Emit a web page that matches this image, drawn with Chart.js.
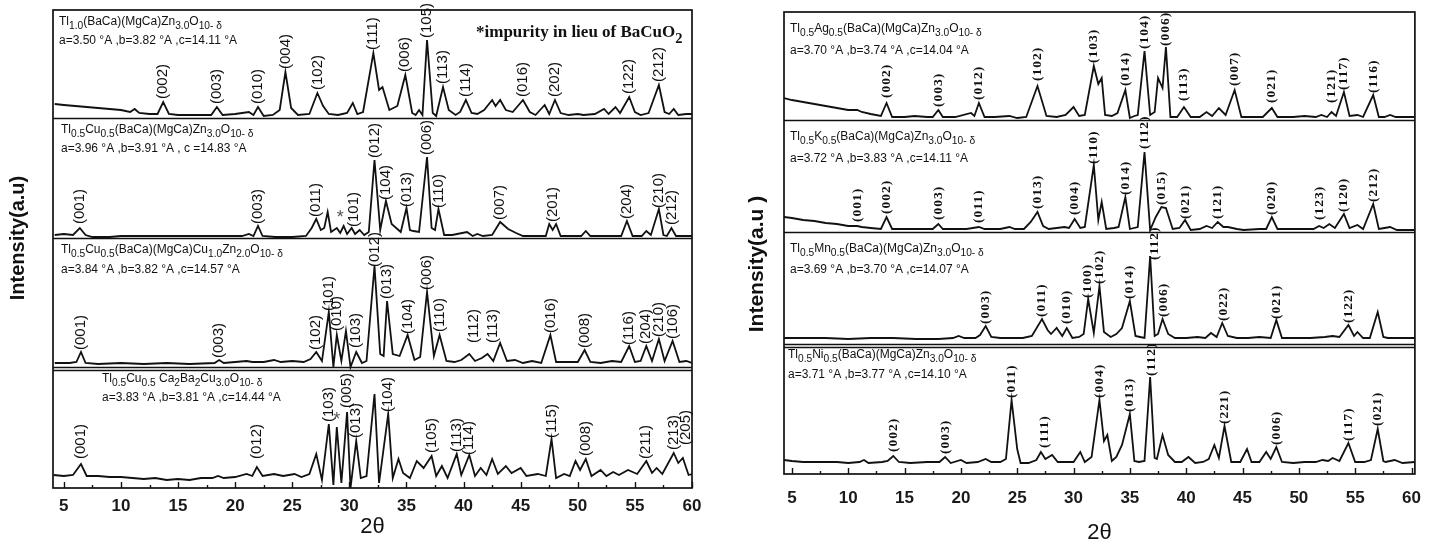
<!DOCTYPE html>
<html>
<head>
<meta charset="utf-8">
<script src="https://cdn.jsdelivr.net/npm/chart.js@4"></script>
<style>
  body { margin: 0; background: #fff; }
  .wrap { position: absolute; top: 0; }
</style>
</head>
<body>
<div class="wrap" style="left:0"><canvas id="left" width="715" height="540"></canvas></div>
<div class="wrap" style="left:715px"><canvas id="right" width="720" height="540"></canvas></div>
<script>
// x axis (2θ) tick labels, shared by both panels
const tickValues = [5, 10, 15, 20, 25, 30, 35, 40, 45, 50, 55, 60];

// ---- left panel patterns: [2θ, intensity a.u.] ----
const tl10Points = [[4.2,14],[5,13],[6,12],[7,11],[8,10],[9,9],[10,8],[10.8,6],[11.2,9],[11.6,5],[12.5,4],[13.2,4],[13.7,16],[14.2,4],[15,3],[16,3],[17,3],[17.9,3],[18.4,11],[18.9,3],[20,4],[21.2,6],[21.6,3],[22,11],[22.5,2],[23.3,3],[23.9,8],[24.4,46],[24.9,10],[25.5,3],[26.5,4],[27.2,25],[27.7,12],[28.2,4],[29,3],[29.8,5],[30.3,15],[30.7,4],[31.2,6],[32.1,65],[32.6,28],[32.9,31],[33.5,8],[34.2,12],[34.9,43],[35.5,5],[35.8,3],[36.1,8],[36.4,3],[36.8,78],[37.3,5],[37.6,2],[38.2,31],[38.7,8],[39.3,3],[39.7,6],[40.2,18],[40.7,5],[41.2,4],[41.8,8],[42.5,18],[42.8,12],[43.2,18],[43.7,8],[44.3,6],[45.2,18],[45.8,6],[46.3,3],[47.1,13],[47.5,4],[48.0,18],[48.5,5],[49.2,3],[50,4],[50.5,3],[51.5,4],[52.3,9],[52.7,4],[53.3,11],[53.7,5],[54.5,21],[55,6],[55.5,3],[56.2,5],[57.1,33],[57.6,6],[58,4],[58.4,9],[58.8,3],[59.5,4],[60,4]];
const tl10Labels = [["(002)",13.7,19],["(003)",18.4,14],["(010)",22.0,14],["(004)",24.4,49],["(102)",27.2,28],["(111)",32.1,68],["(006)",34.9,46],["(105)",36.8,80],["(113)",38.2,34],["(114)",40.2,21],["(016)",45.2,21],["(202)",48.0,21],["(122)",54.5,24],["(212)",57.1,36]];

const cu05Points = [[4.2,3],[5,4],[5.8,3],[6.4,10],[6.9,3],[7.5,1],[9,1],[10,2],[12,2],[14,2],[16,2],[18,2],[19.5,2],[20.6,2],[21.2,4],[21.6,2],[22.0,12],[22.4,2],[23.5,1],[25,1],[26.2,2],[26.7,10],[27.1,19],[27.5,8],[27.8,10],[28.1,26],[28.4,6],[28.9,10],[29.2,5],[29.5,12],[29.8,4],[30.2,10],[30.5,4],[30.9,8],[31.3,3],[31.7,6],[32.2,78],[32.7,8],[33.2,37],[33.7,14],[34.1,10],[34.5,6],[35.0,30],[35.3,8],[35.6,7],[36.1,6],[36.8,81],[37.2,10],[37.5,8],[37.8,29],[38.3,3],[39,3],[40.3,6],[40.8,2],[41.2,4],[41.7,2],[42.5,3],[43.2,16],[43.9,9],[44.6,5],[45.2,2],[46.5,2],[47.2,2],[47.5,14],[47.8,8],[48.1,14],[48.5,2],[49.5,2],[50.3,2],[50.7,7],[51.1,2],[52.5,2],[53.8,2],[54.3,17],[54.8,2],[55.6,2],[56.0,7],[56.4,3],[57.1,29],[57.5,3],[57.8,2],[58.2,10],[58.6,2],[60,2]];
const cu05Labels = [["(001)",6.4,14],["(003)",22.0,14],["(011)",27.1,21],["(101)",30.4,11],["(012)",32.2,80],["(104)",33.2,38],["(013)",35.0,31],["(006)",36.8,83],["(110)",37.8,30],["(007)",43.2,18],["(201)",47.8,16],["(204)",54.3,19],["(210)",57.1,30],["(212)",58.2,13]];
const cu05Stars = [[29.2,20]];

const cuznPoints = [[4.2,4],[5.5,4],[6.1,5],[6.5,15],[6.9,4],[8,3],[10,4],[12,3],[14,4],[16,3],[18.2,4],[18.6,7],[19,4],[20,5],[21,6],[21.5,5],[22.5,5],[23.4,7],[24,5],[25,6],[26,5],[26.6,8],[27.1,15],[27.6,6],[28.2,55],[28.6,0],[28.9,32],[29.3,6],[29.7,36],[30.1,0],[30.6,15],[31.1,4],[31.5,6],[32.2,101],[32.7,13],[33.0,11],[33.3,66],[33.8,13],[34.4,11],[35.1,32],[35.7,7],[36.2,10],[36.8,75],[37.4,11],[37.9,32],[38.5,6],[39.2,5],[39.8,7],[40.5,13],[41.0,6],[41.6,9],[42.1,13],[42.6,6],[43.2,24],[43.8,6],[44.5,7],[45.2,4],[46,6],[46.8,4],[47.6,32],[48.1,5],[49,5],[50,5],[50.6,17],[51.1,5],[52,4],[53,6],[53.8,5],[54.5,21],[55,5],[55.5,6],[56.0,21],[56.5,6],[57.1,28],[57.6,6],[58.3,26],[58.9,5],[59.5,6],[60,4]];
const cuznLabels = [["(001)",6.5,17],["(003)",18.6,9],["(102)",27.1,17],["(101)",28.2,56],["(010)",28.9,36],["(103)",30.6,19],["(012)",32.2,100],["(013)",33.3,68],["(104)",35.1,33],["(006)",36.8,77],["(110)",37.9,35],["(112)",40.9,24],["(113)",42.6,24],["(016)",47.6,34],["(008)",50.6,19],["(116)",54.5,22],["(204)",56.0,23],["(210)",57.1,30],["(106)",58.3,28]];

const ca2ba2Points = [[4.1,13],[5,12],[5.8,13],[6.5,24],[7.0,12],[8,12],[9,11],[10,11],[11,10],[12,9],[13,10],[14,8],[15,9],[16,8],[17,10],[18,10],[18.5,12],[19,10],[20,11],[21,14],[21.5,12],[21.9,21],[22.4,12],[23.4,14],[24.2,12],[25.2,14],[25.8,11],[26.5,14],[27.1,34],[27.6,8],[28.2,64],[28.6,3],[28.9,61],[29.3,5],[29.8,76],[30.1,0],[30.6,47],[31.0,10],[31.5,12],[32.2,94],[32.6,5],[33.4,74],[33.8,10],[34.3,29],[34.7,15],[35.3,10],[35.9,27],[36.5,20],[37.2,32],[37.6,12],[38.1,22],[38.6,10],[39.4,34],[39.8,13],[40.5,33],[41.0,12],[41.5,20],[42.0,13],[42.5,29],[43.0,14],[43.7,22],[44.2,15],[45.0,20],[45.5,12],[46.5,14],[47.2,12],[47.7,49],[48.1,10],[48.8,14],[49.3,12],[49.8,27],[50.2,18],[50.7,29],[51.2,12],[52.0,18],[52.5,12],[53.1,16],[53.6,13],[54.4,18],[55.2,14],[56.0,27],[56.5,15],[56.9,20],[57.4,14],[58.4,35],[58.8,25],[59.2,30],[59.7,13],[60,14]];
const ca2ba2Labels = [["(001)",6.5,29],["(012)",21.9,29],["(103)",28.2,66],["(005)",29.8,80],["(013)",30.6,50],["(104)",33.4,76],["(105)",37.2,35],["(113)",39.4,36],["(114)",40.5,33],["(115)",47.7,50],["(008)",50.7,32],["(211)",56.0,29],["(213)",58.4,38],["(205)",59.5,43]];
const ca2ba2Stars = [[28.9,68]];

// ---- right panel patterns ----
const agPoints = [[4.3,22],[5,20],[6,18],[7,16],[8,14],[9,12],[10,10],[10.8,10],[11.2,8],[12,6],[12.9,4],[13.4,17],[13.9,3],[15,3],[15.9,4],[17,3],[17.5,3],[18.0,10],[18.4,3],[19.5,3],[20.9,7],[21.2,4],[21.6,17],[22.1,3],[23,3],[24.3,4],[25,2],[25.8,3],[26.8,34],[27.6,4],[28.5,3],[29.3,5],[30.0,13],[30.5,4],[31.0,5],[31.8,54],[32.2,36],[32.5,42],[32.8,5],[33.4,4],[33.9,7],[34.6,30],[35.0,2],[35.4,4],[35.7,5],[36.3,69],[36.8,5],[37.2,8],[37.5,42],[37.9,32],[38.2,73],[38.6,3],[39.2,3],[39.8,13],[40.4,3],[41.2,3],[41.8,8],[42.3,4],[42.9,12],[43.5,5],[44.3,30],[44.9,3],[45.8,3],[46.8,3],[47.6,12],[48.1,3],[49.5,3],[50.5,4],[51.5,3],[52.0,5],[52.5,3],[52.9,8],[53.3,4],[54.0,28],[54.5,4],[55.2,5],[55.7,3],[56.6,25],[57.1,3],[57.6,3],[58.1,5],[58.6,3],[60.3,3]];
const agLabels = [["(002)",13.4,22],["(003)",18.0,13],["(012)",21.6,20],["(102)",26.8,39],["(103)",31.8,57],["(014)",34.6,34],["(104)",36.3,71],["(006)",38.2,74],["(113)",39.8,19],["(007)",44.3,34],["(021)",47.6,17],["(121)",52.9,17],["(117)",54.0,30],["(116)",56.6,27]];

const kPoints = [[4.3,15],[5,14],[6,12],[7,11],[8,9],[9,8],[10,6],[10.8,6],[11.2,5],[12,4],[12.9,3],[13.4,15],[13.9,3],[15,3],[16.5,3],[17.5,3],[18.0,8],[18.4,3],[19.5,3],[20.5,3],[21.6,5],[22.1,3],[23.5,3],[24.3,5],[24.8,3],[25.6,3],[26.2,10],[26.8,20],[27.3,6],[27.8,3],[28.5,4],[29.2,5],[29.6,4],[30.1,13],[30.6,4],[31.0,5],[31.8,67],[32.2,12],[32.5,30],[32.9,3],[33.6,4],[34.0,5],[34.6,35],[35.0,3],[35.7,5],[36.3,80],[36.8,2],[37.3,15],[37.8,25],[38.2,24],[38.8,3],[39.4,4],[39.9,12],[40.4,2],[41.2,3],[41.8,6],[42.3,4],[42.8,10],[43.3,5],[43.7,5],[44.5,3],[45.1,2],[46.5,3],[47.1,3],[47.6,15],[48.1,3],[49.5,3],[50.5,3],[51.3,3],[51.8,6],[52.2,4],[52.7,8],[53.2,4],[54.0,18],[54.5,4],[55.2,7],[55.7,3],[56.6,28],[57.1,3],[57.6,4],[58.1,5],[58.7,2],[60.3,2]];
const kLabels = [["(001)",10.8,10],["(002)",13.4,18],["(003)",18.0,12],["(011)",21.6,9],["(013)",26.8,23],["(004)",30.1,17],["(110)",31.8,68],["(014)",34.6,37],["(112)",36.3,83],["(015)",37.8,27],["(021)",39.9,13],["(121)",42.8,13],["(020)",47.6,17],["(123)",51.8,12],["(120)",54.0,20],["(212)",56.6,30]];

const mnPoints = [[4.3,6],[6,6],[8,6],[10,5],[12,6],[14,6],[16,5],[18,5],[19.3,6],[19.8,8],[20.3,6],[21.3,6],[21.7,9],[22.2,18],[22.7,7],[23.5,6],[24.5,6],[25.5,6],[26.3,8],[27.2,25],[27.7,14],[28.0,10],[28.5,16],[29.0,8],[29.4,16],[29.9,6],[30.5,7],[30.9,10],[31.3,45],[31.8,11],[32.3,58],[32.7,12],[33.3,7],[33.8,10],[34.3,16],[35.0,43],[35.5,8],[35.9,7],[36.3,6],[36.8,88],[37.2,8],[37.5,10],[37.9,25],[38.4,10],[39,6],[40,6],[41,7],[41.7,6],[42.2,11],[42.7,7],[43.2,21],[43.7,8],[44.5,6],[45.5,6],[46.5,7],[47.5,6],[48.0,24],[48.5,6],[49.5,6],[51,6],[52.3,7],[53.0,8],[53.6,7],[54.4,19],[54.9,8],[55.2,12],[55.7,6],[56.3,6],[57.0,32],[57.5,7],[57.9,6],[58.8,6],[60.3,6]];
const mnLabels = [["(003)",22.2,20],["(011)",27.2,27],["(010)",29.4,20],["(100)",31.2,46],["(102)",32.3,60],["(014)",35.0,45],["(112)",37.2,84],["(006)",38.0,27],["(022)",43.3,23],["(021)",48.0,25],["(122)",54.4,21]];

const niPoints = [[4.3,14],[5,13],[6,12],[7,12],[8,12],[9,12],[10,11],[11.0,12],[11.4,14],[11.8,11],[13,12],[13.5,13],[14.0,18],[14.5,12],[15.5,11],[17,12],[18.1,12],[18.6,17],[19.1,11],[20.0,14],[20.5,11],[21.5,12],[22.2,15],[22.7,12],[23.5,12],[24.0,15],[24.5,74],[25.0,25],[25.3,11],[26,11],[26.7,14],[27.1,22],[27.5,15],[28.1,19],[28.6,12],[29.2,12],[30.0,12],[30.6,22],[31.0,12],[31.6,17],[32.3,74],[32.7,33],[33.0,39],[33.4,13],[33.8,17],[34.3,29],[35.0,60],[35.4,13],[35.8,12],[36.3,13],[36.8,97],[37.2,16],[37.4,15],[37.9,39],[38.4,19],[39.0,12],[39.6,12],[40.2,17],[40.8,11],[41.5,12],[42.0,15],[42.5,29],[42.9,16],[43.4,48],[44.0,12],[44.8,12],[45.4,25],[45.8,12],[46.5,12],[47.1,22],[47.5,15],[48.0,27],[48.5,12],[49.5,11],[50.5,12],[51.5,12],[52.1,14],[52.6,13],[53.0,16],[53.6,13],[54.4,31],[55.0,12],[55.8,12],[56.4,14],[57.0,45],[57.5,13],[57.7,12],[58.5,14],[59.2,11],[60.3,12]];
const niLabels = [["(002)",14.0,22],["(003)",18.6,20],["(011)",24.5,76],["(111)",27.4,26],["(004)",32.3,76],["(013)",35.0,62],["(112)",36.9,98],["(221)",43.4,50],["(006)",48.0,29],["(117)",54.4,33],["(021)",57.0,48]];

// sample names and cell parameters (_{..} = subscript)
const leftNames = ["Tl_{1.0}(BaCa)(MgCa)Zn_{3.0}O_{10- δ}", "Tl_{0.5}Cu_{0.5}(BaCa)(MgCa)Zn_{3.0}O_{10- δ}", "Tl_{0.5}Cu_{0.5}(BaCa)(MgCa)Cu_{1.0}Zn_{2.0}O_{10- δ}", "Tl_{0.5}Cu_{0.5} Ca_{2}Ba_{2}Cu_{3.0}O_{10- δ}"];
const leftCells = ["a=3.50 °A ,b=3.82 °A ,c=14.11 °A", "a=3.96 °A ,b=3.91 °A , c =14.83 °A", "a=3.84 °A ,b=3.82 °A ,c=14.57 °A", "a=3.83 °A ,b=3.81 °A ,c=14.44 °A"];
const rightNames = ["Tl_{0.5}Ag_{0.5}(BaCa)(MgCa)Zn_{3.0}O_{10- δ}", "Tl_{0.5}K_{0.5}(BaCa)(MgCa)Zn_{3.0}O_{10- δ}", "Tl_{0.5}Mn_{0.5}(BaCa)(MgCa)Zn_{3.0}O_{10- δ}", "Tl_{0.5}Ni_{0.5}(BaCa)(MgCa)Zn_{3.0}O_{10- δ}"];
const rightCells = ["a=3.70 °A ,b=3.74 °A ,c=14.04 °A", "a=3.72 °A ,b=3.83 °A ,c=14.11 °A", "a=3.69 °A ,b=3.70 °A ,c=14.07 °A", "a=3.71 °A ,b=3.77 °A ,c=14.10 °A"];

// draw a string with _{...} parts as subscripts
function drawRich(ctx, str, x, y, size, family, weight) {
  let cx = x;
  str.split(/(_\{[^}]*\})/).filter(s => s).forEach(p => {
    const sub = p.startsWith('_{');
    const t = sub ? p.slice(2, -1) : p;
    ctx.font = `${weight} ${sub ? size * 0.85 : size}px ${family}`;
    ctx.fillText(t, cx, sub ? y + size * 0.35 : y);
    cx += ctx.measureText(t).width;
  });
}

const xrdDecor = {
  id: 'xrdDecor',
  afterDraw(chart, args, o) {
    const {ctx, chartArea: a, scales: {x, y}} = chart;
    ctx.save();
    ctx.strokeStyle = '#111';
    ctx.fillStyle = '#111';
    ctx.lineWidth = 1.7;
    ctx.strokeRect(a.left, a.top, a.right - a.left, a.bottom - a.top);

    // separators between stacked patterns
    o.bands.forEach((b, i) => {
      if (i === 0) return;
      const py = Math.round(y.getPixelForValue(o.bands[i - 1].base)) + 0.5;
      const lines = i === o.bands.length - 1 ? [0, 3] : [0];
      lines.forEach(d => {
        ctx.beginPath();
        ctx.moveTo(a.left, py + d);
        ctx.lineTo(a.right, py + d);
        ctx.stroke();
      });
    });

    // inward ticks on the bottom axis
    ctx.lineWidth = 1.4;
    tickValues.forEach(v => {
      [[v, 6], [v + 2.5, 3]].forEach(([t, len]) => {
        if (t < x.min || t > x.max) return;
        const px = Math.round(x.getPixelForValue(t)) + 0.5;
        ctx.beginPath();
        ctx.moveTo(px, a.bottom);
        ctx.lineTo(px, a.bottom - len);
        ctx.stroke();
      });
    });

    // names, cell parameters, hkl labels
    o.bands.forEach((b, i) => {
      const top = i === 0 ? a.top : y.getPixelForValue(o.bands[i - 1].base);
      ctx.textAlign = 'left';
      ctx.textBaseline = 'middle';
      drawRich(ctx, b.name, a.left + b.nameX, top + b.nameDy, o.nameSize, 'Arial', 'normal');
      ctx.font = `${o.cellWeight} ${o.cellSize}px Arial`;
      ctx.fillText(b.cell, a.left + b.nameX, top + b.cellDy);

      ctx.font = o.hklFont;
      ctx.letterSpacing = o.hklSpacing;
      b.labels.forEach(([txt, tx, ty]) => {
        ctx.save();
        ctx.translate(x.getPixelForValue(tx), y.getPixelForValue(b.base + ty));
        ctx.rotate(-Math.PI / 2);
        ctx.fillText(txt, 0, 0);
        ctx.restore();
      });
      ctx.letterSpacing = '0px';
      ctx.font = '18px Arial';
      ctx.fillStyle = '#555';
      ctx.textAlign = 'center';
      (b.stars || []).forEach(([tx, ty]) => {
        ctx.fillText('*', x.getPixelForValue(tx), y.getPixelForValue(b.base + ty));
      });
      ctx.fillStyle = '#111';
    });

    if (o.note) {
      ctx.textAlign = 'left';
      drawRich(ctx, o.note.text, o.note.x, o.note.y, 17, '"Liberation Serif", "Times New Roman", serif', 'bold');
    }

    // y title
    ctx.save();
    ctx.translate(o.yTitle.x, o.yTitle.y);
    ctx.rotate(-Math.PI / 2);
    ctx.textAlign = 'center';
    ctx.textBaseline = 'middle';
    ctx.font = `bold ${o.yTitle.size}px Arial`;
    ctx.fillText(o.yTitle.text, 0, 0);
    ctx.restore();
    ctx.restore();
  }
};

function makePanel(id, cfg) {
  return new Chart(document.getElementById(id), {
    type: 'line',
    data: {
      datasets: cfg.decor.bands.map(b => ({
        data: b.points.map(p => ({x: p[0], y: p[1] + b.base})),
        borderColor: '#111',
        borderWidth: 1.8,
        pointRadius: 0,
        tension: 0
      }))
    },
    options: {
      responsive: false,
      animation: false,
      layout: { padding: cfg.padding },
      plugins: {
        legend: { display: false },
        tooltip: { enabled: false },
        xrdDecor: cfg.decor
      },
      scales: {
        x: {
          type: 'linear',
          min: cfg.xMin,
          max: cfg.xMax,
          afterBuildTicks: s => { s.ticks = tickValues.map(v => ({value: v})); },
          afterFit: s => { s.height = cfg.axisHeight; },
          grid: { display: false, drawTicks: false },
          border: { display: false },
          ticks: {
            autoSkip: false, maxRotation: 0, padding: cfg.tickPad,
            color: '#1a1a1a',
            font: { family: 'Arial', size: 17, weight: 'bold' }
          },
          title: {
            display: true, text: '2θ', color: '#111',
            font: { family: 'Arial', size: 22, lineHeight: 1 },
            padding: { top: 0, bottom: cfg.titlePad }
          }
        },
        y: { display: false, min: 0, max: cfg.yMax }
      }
    },
    plugins: [xrdDecor]
  });
}

makePanel('left', {
  padding: { left: 53, right: 23, top: 10, bottom: 0 },
  xMin: 4.05, xMax: 60, yMax: 478, axisHeight: 52, tickPad: 8, titlePad: 2,
  decor: {
    nameSize: 12, cellSize: 12, cellWeight: 'normal',
    hklFont: '15px Arial', hklSpacing: '0px',
    yTitle: { text: 'Intensity(a.u)', x: 18, y: 238, size: 20 },
    note: { text: '*impurity in lieu of BaCuO_{2}', x: 476, y: 33 },
    bands: [
      { base: 370, points: tl10Points, labels: tl10Labels, name: leftNames[0], cell: leftCells[0], nameX: 6, nameDy: 12, cellDy: 31 },
      { base: 250, points: cu05Points, labels: cu05Labels, stars: cu05Stars, name: leftNames[1], cell: leftCells[1], nameX: 8, nameDy: 12, cellDy: 31 },
      { base: 121, points: cuznPoints, labels: cuznLabels, name: leftNames[2], cell: leftCells[2], nameX: 8, nameDy: 12, cellDy: 32 },
      { base: 0, points: ca2ba2Points, labels: ca2ba2Labels, stars: ca2ba2Stars, name: leftNames[3], cell: leftCells[3], nameX: 49, nameDy: 12, cellDy: 31 }
    ]
  }
});

makePanel('right', {
  padding: { left: 69, right: 6, top: 12, bottom: 0 },
  xMin: 4.3, xMax: 60.3, yMax: 462, axisHeight: 66, tickPad: 14, titlePad: -4,
  decor: {
    nameSize: 12, cellSize: 12, cellWeight: 'normal',
    hklFont: 'bold 13.5px "Liberation Serif", "Times New Roman", serif', hklSpacing: '1px',
    yTitle: { text: 'Intensity(a.u )', x: 42, y: 264, size: 21 },
    bands: [
      { base: 354, points: agPoints, labels: agLabels, name: rightNames[0], cell: rightCells[0], nameX: 6, nameDy: 17, cellDy: 39 },
      { base: 242, points: kPoints, labels: kLabels, name: rightNames[1], cell: rightCells[1], nameX: 6, nameDy: 17, cellDy: 39 },
      { base: 130, points: mnPoints, labels: mnLabels, name: rightNames[2], cell: rightCells[2], nameX: 6, nameDy: 17, cellDy: 38 },
      { base: 0, points: niPoints, labels: niLabels, name: rightNames[3], cell: rightCells[3], nameX: 4, nameDy: 11, cellDy: 31 }
    ]
  }
});
</script>
</body>
</html>
